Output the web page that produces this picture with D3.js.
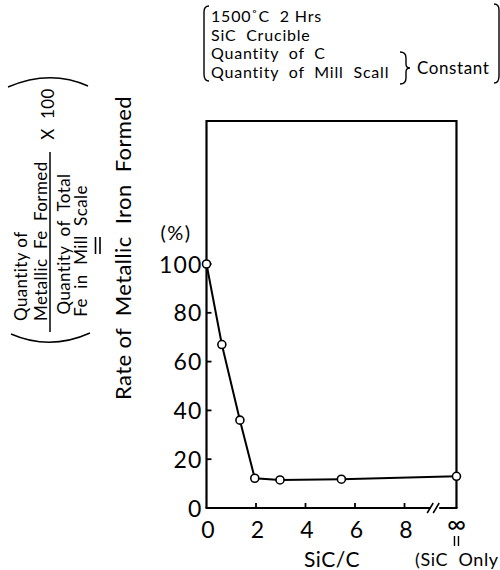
<!DOCTYPE html>
<html>
<head>
<meta charset="utf-8">
<script src="https://cdn.jsdelivr.net/npm/d3@7"></script>
<style>
  body { margin: 0; background: #fff; }
  svg text { font-family: "Lato", "DejaVu Sans", sans-serif; fill: #000; white-space: pre; }
</style>
</head>
<body>
<div id="vis"></div>
<script>
const FRAME_WIDTH = 500;
const FRAME_HEIGHT = 570;

// data
const sicRatio = [0, 0.62, 1.35, 1.95, 2.97, 5.45, Infinity];
const ironRate = [100, 67, 36, 12.2, 11.5, 11.8, 13];
const yTicks = [0, 20, 40, 60, 80, 100];
const xTicks = [0, 2, 4, 6, 8];
const conditions = ["1500\u02daC  2 Hrs", "SiC  Crucible", "Quantity  of  C", "Quantity  of  Mill  Scall"];

const INF_POS = 10.1;

const svg = d3.select("#vis")
	.append("svg")
		.attr("width", FRAME_WIDTH)
		.attr("height", FRAME_HEIGHT);

const X_SCALE = d3.scaleLinear().domain([0, 10]).range([206.5, 454]);
const Y_SCALE = d3.scaleLinear().domain([0, 100]).range([508, 264]);
const xPos = (d) => X_SCALE(isFinite(d) ? d : INF_POS);

const boxL = X_SCALE(0), boxR = xPos(Infinity), boxB = Y_SCALE(0), boxT = 121;

// frame: left, top, right
svg.append("path")
	.attr("d", `M${boxL},${boxB} V${boxT} H${boxR} V${boxB}`)
	.attr("fill", "none").attr("stroke", "#000").attr("stroke-width", 2.2);

// bottom axis with break
const breakX = X_SCALE(9.2);
svg.append("path")
	.attr("d", `M${boxL - 1},${boxB} H${breakX - 4} M${breakX + 5},${boxB} H${boxR + 1}`)
	.attr("stroke", "#000").attr("stroke-width", 2.2);
svg.append("path")
	.attr("d", `M${breakX - 7},${boxB + 5} L${breakX - 1},${boxB - 5} M${breakX - 1},${boxB + 5} L${breakX + 5},${boxB - 5}`)
	.attr("stroke", "#000").attr("stroke-width", 1.6);

// y ticks
svg.selectAll(".ytick")
	.data(yTicks)
	.enter()
	.append("line")
		.attr("x1", boxL).attr("x2", boxL + 5)
		.attr("y1", (d) => Y_SCALE(d)).attr("y2", (d) => Y_SCALE(d))
		.attr("stroke", "#000").attr("stroke-width", 1.8);

svg.selectAll(".ylab")
	.data(yTicks)
	.enter()
	.append("text")
		.attr("x", boxL - 4)
		.attr("y", (d) => Y_SCALE(d) + 8.5)
		.attr("text-anchor", "end")
		.attr("font-size", 23)
		.attr("letter-spacing", 1.2)
		.text((d) => d);

// x ticks
svg.selectAll(".xtick")
	.data(xTicks.slice(1))
	.enter()
	.append("line")
		.attr("x1", (d) => X_SCALE(d)).attr("x2", (d) => X_SCALE(d))
		.attr("y1", boxB).attr("y2", boxB - 5)
		.attr("stroke", "#000").attr("stroke-width", 1.8);

svg.selectAll(".xlab")
	.data(xTicks)
	.enter()
	.append("text")
		.attr("x", (d) => X_SCALE(d) + 1.5)
		.attr("y", boxB + 30)
		.attr("text-anchor", "middle")
		.attr("font-size", 23)
		.text((d) => d);

// infinity label, with a vertical "=" below
svg.append("text")
	.attr("x", boxR).attr("y", boxB + 25)
	.attr("text-anchor", "middle").attr("font-size", 26)
	.text("\u221e");
svg.append("path")
	.attr("d", `M${boxR - 2},${boxB + 28} V${boxB + 38} M${boxR + 2},${boxB + 28} V${boxB + 38}`)
	.attr("stroke", "#000").attr("stroke-width", 1.4);
svg.append("text")
	.attr("x", 415).attr("y", 566)
	.attr("font-size", 18).attr("letter-spacing", 0.6)
	.text("(SiC  Only");

svg.append("text")
	.attr("x", 332).attr("y", 567)
	.attr("text-anchor", "middle").attr("font-size", 21).attr("letter-spacing", 0.5)
	.text("SiC/C");

svg.append("text")
	.attr("x", 176).attr("y", 240)
	.attr("text-anchor", "middle").attr("font-size", 20).attr("letter-spacing", 1.5)
	.text("(%)");

// data line and points
const pts = sicRatio.map((d, i) => ({x: d, y: ironRate[i]}));
svg.append("path")
	.datum(pts)
	.attr("d", d3.line().x((d) => xPos(d.x)).y((d) => Y_SCALE(d.y)))
	.attr("fill", "none").attr("stroke", "#000").attr("stroke-width", 2);

svg.selectAll(".point")
	.data(pts)
	.enter()
	.append("circle")
		.attr("cx", (d) => xPos(d.x))
		.attr("cy", (d) => Y_SCALE(d.y))
		.attr("r", 4)
		.attr("fill", "#fff").attr("stroke", "#000").attr("stroke-width", 1.6);

// y axis title
svg.append("text")
	.attr("transform", "translate(131,248) rotate(-90)")
	.attr("text-anchor", "middle").attr("font-size", 22).attr("letter-spacing", 0.4)
	.text("Rate of  Metallic  Iron  Formed");

// fraction definition
const frac = svg.append("g").attr("font-size", 17).attr("letter-spacing", 0.4);
frac.append("text").attr("transform", "translate(27,321) rotate(-90)").text("Quantity of");
frac.append("text").attr("transform", "translate(46.5,321) rotate(-90)").text("Metallic  Fe  Formed");
frac.append("line").attr("x1", 50).attr("x2", 50).attr("y1", 332).attr("y2", 152).attr("stroke", "#000").attr("stroke-width", 1.5);
frac.append("text").attr("transform", "translate(69.5,244) rotate(-90)").attr("text-anchor", "middle").text("Quantity  of  Total");
frac.append("text").attr("transform", "translate(87,251) rotate(-90)").attr("text-anchor", "middle").text("Fe  in  Mill  Scale");
frac.append("text").attr("transform", "translate(54,114) rotate(-90)").attr("text-anchor", "middle").text("X  100");
frac.append("path").attr("d", "M95.5,237 V254 M100,237 V254").attr("stroke", "#000").attr("stroke-width", 1.6);
frac.append("path").attr("d", "M8,87 Q50,69 88,86").attr("fill", "none").attr("stroke", "#000").attr("stroke-width", 1.4);
frac.append("path").attr("d", "M11,334 Q50,351 90,333").attr("fill", "none").attr("stroke", "#000").attr("stroke-width", 1.4);

// conditions block
const cond = svg.append("g").attr("font-size", 16).attr("letter-spacing", 0.8);
cond.selectAll("text")
	.data(conditions)
	.enter()
	.append("text")
		.attr("x", 211)
		.attr("y", (d, i) => 22 + i * 18.5)
		.text((d) => d);
cond.append("path").attr("d", "M209,6 Q204,6 204,12 V74 Q204,81 209,81").attr("fill", "none").attr("stroke", "#000").attr("stroke-width", 1.4);
cond.append("path").attr("d", "M494,4 Q499,4 499,10 V76 Q499,83 494,83").attr("fill", "none").attr("stroke", "#000").attr("stroke-width", 1.4);
cond.append("path").attr("d", "M400,52 Q406,52 406,58 V64 Q406,68 410,68 Q406,68 406,72 V78 Q406,84 400,84").attr("fill", "none").attr("stroke", "#000").attr("stroke-width", 1.4);
cond.append("text").attr("x", 417).attr("y", 74).attr("letter-spacing", 0.6).attr("font-size", 17).text("Constant");
</script>
</body>
</html>
